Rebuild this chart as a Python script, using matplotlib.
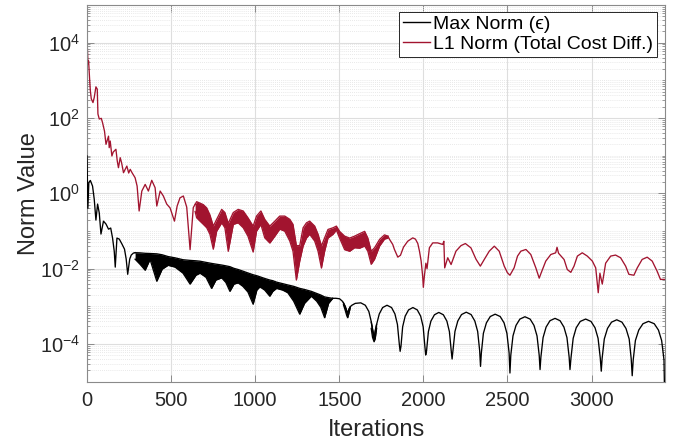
import numpy as np
import matplotlib
matplotlib.use('Agg')
import matplotlib.pyplot as plt
from matplotlib.ticker import FixedLocator, LogLocator, NullFormatter, FixedFormatter

plt.rcParams['font.family'] = ['Liberation Sans', 'DejaVu Sans']
plt.rcParams['mathtext.fontset'] = 'custom'
plt.rcParams['mathtext.rm'] = 'Liberation Sans'
plt.rcParams['mathtext.it'] = 'Liberation Sans:italic'
plt.rcParams['mathtext.bf'] = 'Liberation Sans:bold'

# ---------------- Max Norm (black) ----------------
black_head_it = [0, 5, 11, 20, 33, 43, 53, 63, 73, 83, 98, 113, 128, 141, 152, 162, 168, 178, 192, 208,
                 223, 233, 242, 254, 263, 276, 286]
black_head_val = [9.8, 0.4, 1.95, 2.2, 1.56, 0.70, 0.195, 0.52, 0.30, 0.083, 0.183, 0.153, 0.112, 0.12, 0.065,
                  0.029, 0.011, 0.065, 0.061, 0.045, 0.033, 0.018, 0.0071, 0.018, 0.023, 0.026, 0.0266]

black_band_it = [286, 316, 346, 375, 415, 447, 482, 524, 571, 613, 648, 672, 708, 741, 767, 801, 826, 850, 874,
                 899, 927, 957, 988, 1010, 1028, 1057, 1087, 1105, 1127, 1164, 1194, 1229, 1265, 1294, 1334,
                 1366, 1390, 1413, 1437, 1461]
black_band_hi = [0.0266, 0.0263, 0.0256, 0.0253, 0.0248, 0.0234, 0.0210, 0.0194, 0.0173, 0.0166, 0.0162, 0.0158,
                 0.0147, 0.0138, 0.0132, 0.0125, 0.0119, 0.0113, 0.0102, 0.0095, 0.0086, 0.0077, 0.0069, 0.0065,
                 0.0061, 0.0055, 0.0050, 0.0048, 0.0044, 0.0040, 0.0037, 0.0034, 0.0030, 0.0028, 0.0025, 0.0022,
                 0.0020, 0.00178, 0.00170, 0.00163]
black_band_lo = [0.0179, 0.0130, 0.0091, 0.0176, 0.00465, 0.0097, 0.0123, 0.0110, 0.0076, 0.0039, 0.0067, 0.0076,
                 0.0059, 0.0030, 0.0050, 0.0057, 0.0043, 0.0025, 0.0039, 0.0042, 0.0034, 0.0024, 0.00114, 0.0027,
                 0.0033, 0.0027, 0.00186, 0.0025, 0.0030, 0.0027, 0.0023, 0.00137, 0.00062, 0.00121, 0.00186,
                 0.00137, 0.00095, 0.00050, 0.00121, 0.00163]

black_d1_it = [1525, 1535, 1545, 1550, 1556, 1565]
black_d1_hi = [1.25e-3, 1.0e-3, 7.5e-4, 6.2e-4, 7.8e-4, 9.8e-4]
black_d1_lo = [1.1e-3, 8.0e-4, 5.6e-4, 5.0e-4, 6.2e-4, 9.0e-4]
black_d2_it = [1690, 1698, 1707, 1714, 1722]
black_d2_hi = [3.8e-4, 2.4e-4, 1.4e-4, 2.3e-4, 3.3e-4]
black_d2_lo = [2.6e-4, 1.5e-4, 1.15e-4, 1.4e-4, 2.6e-4]

black_tail_it = [1461, 1479, 1502, 1520, 1535, 1545, 1550, 1558, 1572, 1595, 1628, 1655, 1676, 1691, 1702, 1707,
                 1722, 1738, 1758, 1784, 1811, 1831, 1846, 1857, 1862,
                 1867, 1877, 1892, 1912, 1938, 1964, 1984, 1999, 2009, 2014,
                 2019, 2030, 2045, 2066, 2092, 2119, 2140, 2155, 2166, 2171,
                 2176, 2188, 2205, 2227, 2255, 2284, 2306, 2323, 2335, 2340,
                 2345, 2357, 2375, 2398, 2427, 2457, 2480, 2497, 2510, 2515,
                 2520, 2533, 2551, 2574, 2604, 2635, 2658, 2676, 2689, 2694,
                 2699, 2712, 2730, 2753, 2783, 2813, 2836, 2854, 2867, 2872,
                 2878, 2891, 2909, 2933, 2965, 2997, 3021, 3039, 3052, 3058,
                 3063, 3076, 3095, 3119, 3150, 3181, 3205, 3224, 3236, 3242,
                 3248, 3261, 3281, 3306, 3339, 3373, 3398, 3417, 3431, 3437]
black_tail_val = [1.63e-3, 1.64e-3, 1.59e-3, 1.35e-3, 1.0e-3, 7.5e-4, 6.2e-4, 8.6e-4, 1.05e-3, 1.2e-3, 1.24e-3,
                  1.07e-3, 7.3e-4, 3.8e-4, 2.0e-4, 1.4e-4,
                  3.3e-4, 6.3e-4, 9.3e-4, 1.07e-3, 9.3e-4, 6.3e-4, 3.3e-4, 1.0e-4, 6.4e-5,
                  8.7e-5, 2.87e-4, 5.5e-4, 8.05e-4, 9.3e-4, 8.05e-4, 5.5e-4, 2.87e-4, 8.7e-5, 5.1e-5,
                  6.5e-5, 2.13e-4, 4.06e-4, 5.98e-4, 6.9e-4, 5.98e-4, 4.06e-4, 2.13e-4, 6.5e-5, 4.0e-5,
                  6.6e-5, 2.16e-4, 4.1e-4, 6.06e-4, 7.0e-4, 6.06e-4, 4.1e-4, 2.16e-4, 6.6e-5, 2.55e-5,
                  5.8e-5, 1.92e-4, 3.65e-4, 5.37e-4, 6.2e-4, 5.37e-4, 3.65e-4, 1.92e-4, 5.8e-5, 1.7e-5,
                  5.0e-5, 1.64e-4, 3.12e-4, 4.59e-4, 5.3e-4, 4.59e-4, 3.12e-4, 1.64e-4, 5.0e-5, 2.1e-5,
                  4.5e-5, 1.48e-4, 2.82e-4, 4.16e-4, 4.8e-4, 4.16e-4, 2.82e-4, 1.48e-4, 4.5e-5, 2.1e-5,
                  4.3e-5, 1.42e-4, 2.7e-4, 3.98e-4, 4.6e-4, 3.98e-4, 2.7e-4, 1.42e-4, 4.3e-5, 1.9e-5,
                  4.1e-5, 1.36e-4, 2.59e-4, 3.81e-4, 4.4e-4, 3.81e-4, 2.59e-4, 1.36e-4, 4.1e-5, 1.44e-5,
                  3.8e-5, 1.24e-4, 2.35e-4, 3.46e-4, 4.0e-4, 3.46e-4, 2.35e-4, 1.24e-4, 3.8e-5, 1e-6]

# ---------------- L1 Norm (red) ----------------
red_head_it = [0, 6, 9.5, 15, 20, 25.5, 35.6, 43, 53, 61, 65, 73, 85, 92.5, 104, 113, 128, 132, 138, 148,
               156, 172, 180, 187, 197.5, 206, 217, 237, 248, 257, 269, 286, 298, 310, 326, 346, 365, 385, 405,
               415, 435, 454, 474, 494, 520, 536, 553, 573, 593, 613, 632, 643]
red_head_val = [1.25e4, 2.77e3, 3.27e3, 1.19e3, 523, 322, 257, 350, 672, 585, 128, 94, 98, 75, 45, 20, 33, 16.3,
                24.5, 9.8, 12.5, 14.8, 7.2, 4.8, 8.85, 6.4, 3.53, 5.3, 3.46, 4.35, 3.46, 2.6, 1.56, 0.34, 1.15,
                1.73, 1.15, 2.22, 1.41, 0.46, 1.15, 0.85, 0.52, 0.41, 0.183, 0.46, 0.76, 0.85, 0.43, 0.032, 0.42,
                0.51]

red_band_it = [643, 652, 672, 692, 712, 731, 751, 771, 801, 820, 840, 870, 899, 929, 957, 988, 1008, 1034, 1057,
               1087, 1117, 1146, 1176, 1206, 1225, 1245, 1265, 1285, 1305, 1324, 1354, 1374, 1394, 1413, 1433,
               1463, 1483, 1502, 1532, 1562, 1591, 1621, 1651, 1670, 1690, 1710, 1740, 1769, 1789]
red_band_hi = [0.51, 0.60, 0.55, 0.50, 0.41, 0.267, 0.135, 0.204, 0.375, 0.31, 0.16, 0.31, 0.375, 0.34, 0.225,
               0.135, 0.249, 0.34, 0.204, 0.135, 0.183, 0.249, 0.249, 0.204, 0.150, 0.041, 0.041, 0.122, 0.165,
               0.183, 0.135, 0.082, 0.040, 0.066, 0.110, 0.122, 0.135, 0.098, 0.073, 0.065, 0.073, 0.085, 0.098,
               0.065, 0.029, 0.036, 0.060, 0.079, 0.073]
red_band_lo = [0.33, 0.225, 0.183, 0.150, 0.122, 0.082, 0.033, 0.099, 0.165, 0.122, 0.029, 0.150, 0.165, 0.122,
               0.073, 0.0277, 0.099, 0.150, 0.066, 0.048, 0.073, 0.112, 0.099, 0.054, 0.029, 0.0050, 0.0159, 0.040,
               0.065, 0.082, 0.054, 0.029, 0.0104, 0.029, 0.065, 0.082, 0.106, 0.065, 0.032, 0.029, 0.036, 0.035,
               0.040, 0.029, 0.0131, 0.0179, 0.040, 0.061, 0.065]

red_tail_it = [1789, 1799, 1818, 1828, 1848, 1864, 1882, 1907, 1937, 1953, 1967, 1977, 1987, 1996, 2000, 2006,
               2015, 2022, 2036, 2056, 2085, 2115, 2122, 2127, 2145, 2165, 2194, 2224, 2250, 2283, 2313, 2339,
               2362, 2392, 2422, 2451, 2481, 2500, 2515, 2540, 2560, 2580, 2610, 2639, 2669, 2689, 2700, 2728,
               2758, 2787, 2795, 2804, 2837, 2856, 2877, 2896, 2916, 2945, 2975, 3005, 3025, 3033, 3040, 3050,
               3064, 3084, 3114, 3143, 3173, 3203, 3222, 3252, 3272, 3301, 3331, 3361, 3390, 3410, 3437]
red_tail_val = [0.073, 0.060, 0.044, 0.0325, 0.0203, 0.0227, 0.0373, 0.0535, 0.0658, 0.061, 0.0467, 0.0292,
                0.0159, 0.0063, 0.0032, 0.0063, 0.0140, 0.010, 0.036, 0.0484, 0.0484, 0.044, 0.0535, 0.0105,
                0.0195, 0.0129, 0.0292, 0.041, 0.0465, 0.0357, 0.0179, 0.0117, 0.0175, 0.0292, 0.0396, 0.0292,
                0.0117, 0.0078, 0.0067, 0.0106, 0.0216, 0.0292, 0.0324, 0.0238, 0.0105, 0.0056, 0.0076, 0.0159,
                0.0238, 0.0264, 0.037, 0.0257, 0.0175, 0.0095, 0.0080, 0.0117, 0.0216, 0.0264, 0.0216, 0.0159,
                0.0105, 0.0047, 0.0023, 0.0076, 0.0039, 0.0140, 0.0216, 0.0230, 0.0195, 0.0117, 0.0071, 0.0067,
                0.0105, 0.0176, 0.0202, 0.0159, 0.0086, 0.0052, 0.0052]

y_tick_vals = [1e-4, 1e-2, 1e0, 1e2, 1e4]
y_tick_labels = ['$10^{-4}$', '$10^{-2}$', '$10^{0}$', '$10^{2}$', '$10^{4}$']
x_ticks = [0, 500, 1000, 1500, 2000, 2500, 3000]

BLACK = '#000000'
RED = '#A2142F'
LW = 0.95

fig = plt.figure(figsize=(6.78, 4.45), dpi=100)
ax = fig.add_axes([87 / 678, 1 - 381.7 / 445, 578 / 678, 376.7 / 445])
ax.set_yscale('log')


def band(it, hi, lo, color):
    ax.fill_between(it, lo, hi, color=color, linewidth=0, zorder=2)
    ax.plot(it, hi, color=color, lw=LW, zorder=2)
    ax.plot(it, lo, color=color, lw=LW, zorder=2)


# red series
band(red_band_it, red_band_hi, red_band_lo, RED)
ax.plot(red_head_it, red_head_val, color=RED, lw=LW, zorder=2)
ax.plot(red_tail_it, red_tail_val, color=RED, lw=LW, zorder=2)

# black series
band(black_band_it, black_band_hi, black_band_lo, BLACK)
band(black_d1_it, black_d1_hi, black_d1_lo, BLACK)
band(black_d2_it, black_d2_hi, black_d2_lo, BLACK)
ax.plot(black_head_it, black_head_val, color=BLACK, lw=LW, zorder=3)
ax.plot(black_tail_it, black_tail_val, color=BLACK, lw=LW, zorder=3)

# legend handles
h1, = ax.plot([], [], color=BLACK, lw=1.0, label='Max Norm (\u03f5)')
h2, = ax.plot([], [], color=RED, lw=1.0, label='L1 Norm (Total Cost Diff.)')

ax.set_xlim(0, 3437)
ax.set_ylim(1e-5, 1e5)

ax.xaxis.set_major_locator(FixedLocator(x_ticks))
ax.yaxis.set_major_locator(FixedLocator(y_tick_vals))
ax.yaxis.set_major_formatter(FixedFormatter(y_tick_labels))
ax.yaxis.set_minor_locator(LogLocator(base=10, subs=np.arange(1, 10), numticks=30))
ax.yaxis.set_minor_formatter(NullFormatter())

ax.grid(True, which='major', axis='both', color='#dedede', lw=0.8, ls='-', zorder=0)
ax.grid(True, which='minor', axis='y', color='#e2e2e2', lw=0.6, ls=(0, (1, 1.5)), zorder=0)
ax.set_axisbelow(True)

for s in ax.spines.values():
    s.set_color('#8a8a8a')
    s.set_linewidth(0.8)

ax.tick_params(which='both', direction='in', top=True, right=True, colors='#8a8a8a',
               labelcolor='#262626', labelsize=14.5)
ax.tick_params(which='major', length=5, width=0.7)
ax.tick_params(which='minor', length=2.5, width=0.6)
ax.tick_params(axis='x', pad=6.5)
ax.tick_params(axis='y', pad=5)

ax.set_xlabel('Iterations', fontsize=17, color='#262626')
ax.set_ylabel('Norm Value', fontsize=17, color='#262626')
ax.xaxis.set_label_coords(0.5, -0.100)
ax.yaxis.set_label_coords(-0.082, 0.5)

leg = ax.legend(handles=[h1, h2], loc='upper right', bbox_to_anchor=(0.986, 0.982), borderaxespad=0,
                fontsize=14, frameon=True, fancybox=False, framealpha=1, edgecolor='#262626',
                handlelength=1.4, handletextpad=0.15, borderpad=0.2, labelspacing=0.1)
leg.get_frame().set_linewidth(0.7)
for t in leg.get_texts():
    t.set_color('#000000')

fig.savefig('out.png', dpi=100)
